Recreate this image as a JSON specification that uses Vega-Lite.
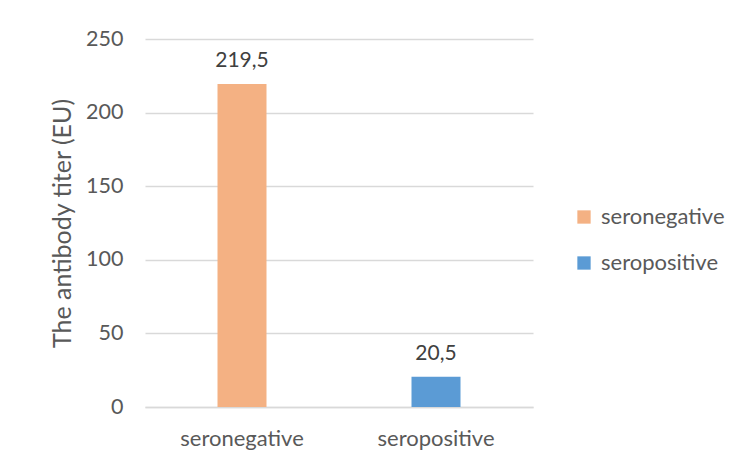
{
  "$schema": "https://vega.github.io/schema/vega-lite/v6.json",
  "width": 388,
  "height": 368,
  "autosize": {"type": "none"},
  "padding": {"left": 145, "top": 39, "right": 200, "bottom": 56},
  "background": "white",
  "config": {
    "font": "Lato",
    "view": {"stroke": null},
    "locale": {
      "number": {"decimal": ",", "thousands": ".", "grouping": [3], "currency": ["", " €"]}
    }
  },
  "data": {
    "values": [
      {"group": "seronegative", "titer": 219.5},
      {"group": "seropositive", "titer": 20.5}
    ]
  },
  "encoding": {
    "x": {
      "field": "group",
      "type": "nominal",
      "sort": ["seronegative", "seropositive"],
      "scale": {"paddingInner": 0, "paddingOuter": 0},
      "axis": {
        "title": null,
        "labelAngle": 0,
        "labelFontSize": 22,
        "labelColor": "#595959",
        "labelPadding": 21,
        "ticks": false,
        "domainColor": "#D9D9D9",
        "domainWidth": 1.5,
        "grid": false
      }
    },
    "y": {
      "field": "titer",
      "type": "quantitative",
      "scale": {"domain": [0, 250], "nice": false},
      "axis": {
        "title": "The antibody titer (EU)",
        "titleFontSize": 25,
        "titleFontWeight": "normal",
        "titleColor": "#595959",
        "titlePadding": 10,
        "values": [0, 50, 100, 150, 200, 250],
        "labelFontSize": 21.5,
        "labelColor": "#595959",
        "labelPadding": 22,
        "ticks": false,
        "domain": false,
        "gridColor": "#D9D9D9",
        "gridWidth": 1.5
      }
    }
  },
  "layer": [
    {
      "mark": {"type": "bar", "size": 49},
      "encoding": {
        "color": {
          "field": "group",
          "type": "nominal",
          "scale": {
            "domain": ["seronegative", "seropositive"],
            "range": ["#F4B183", "#5B9BD5"]
          },
          "legend": {
            "title": null,
            "orient": "none",
            "legendX": 428,
            "legendY": 167,
            "padding": 0,
            "symbolType": "square",
            "symbolSize": 177,
            "symbolStrokeWidth": 0,
            "labelFontSize": 22,
            "labelColor": "#595959",
            "labelOffset": 6,
            "rowPadding": 24
          }
        }
      }
    },
    {
      "mark": {"type": "text", "baseline": "alphabetic", "dy": -17, "fontSize": 21, "color": "#404040"},
      "encoding": {
        "text": {"field": "titer", "type": "quantitative", "format": ".1f"}
      }
    }
  ]
}
